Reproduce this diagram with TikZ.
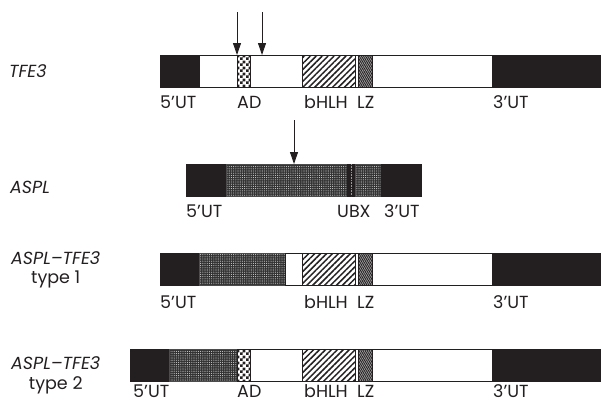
\documentclass[tikz,border=0pt]{standalone}
\usepackage{fontspec}
\setmainfont{Poppins}
\usetikzlibrary{patterns,patterns.meta,arrows.meta}
\definecolor{ink}{RGB}{35,31,32}
\tikzdeclarepattern{
  name=smallchecks,
  type=uncolored,
  bottom left={(0pt,0pt)},
  top right={(6pt,6pt)},
  tile size={(6pt,6pt)},
  code={
    \pgfpathrectangle{\pgfpointorigin}{\pgfqpoint{3pt}{3pt}}
    \pgfpathrectangle{\pgfqpoint{3pt}{3pt}}{\pgfqpoint{3pt}{3pt}}
    \pgfusepath{fill}
  }
}
\newcommand{\seg}[5]{\node[#1,minimum width={#4pt-#3pt}] (#2) at (#3,#5) {};}
\begin{document}
\begin{tikzpicture}[x=1pt,y=-1pt,
           seg/.style={draw=ink,line width=0.6pt,inner sep=0pt,outer sep=0pt,anchor=north west,minimum height=32pt},
           seg_utr/.style={seg,fill=ink},
           seg_open/.style={seg,fill=white},
           seg_ad/.style={seg,preaction={fill=white},pattern=smallchecks,pattern color=ink},
           seg_bhlh/.style={seg,preaction={fill=white},pattern={Lines[angle=45,distance=4.2pt,line width=1.5pt]},pattern color=ink},
           seg_lz/.style={seg,preaction={fill=black!35},pattern={Lines[angle=-60,distance=1.8pt,line width=0.9pt]},pattern color=ink},
           seg_aspl/.style={seg,draw=black!70,preaction={fill=black!80},pattern={Dots[distance=2.2pt,radius=0.55pt,xshift=0.4pt]},pattern color=white!80!black},
           seg_ubx/.style={seg,fill=ink},
           lbl_style/.style={anchor=west,inner sep=0pt,text=ink,font=\fontsize{17.5}{20}\selectfont},
           name_style/.style={anchor=west,inner sep=0pt,text=ink,font=\fontsize{17.5}{20}\selectfont\itshape},
           arrow_style/.style={draw=ink,line width=0.9pt,-{Triangle[length=12pt,width=8pt]}}]
            \useasboundingbox (0,0) rectangle (601,402);
            % TFE3
            \node[name_style] (n_tfe) at (9,71) {TFE3};
            \seg{seg_utr}{tfe_utr5}{160}{199}{55}
            \seg{seg_open}{tfe_w1}{199}{237}{55}
            \seg{seg_ad}{tfe_ad}{237}{250}{55}
            \seg{seg_open}{tfe_w2}{250}{302}{55}
            \seg{seg_bhlh}{tfe_bhlh}{302}{355}{55}
            \seg{seg_open}{tfe_gap}{355}{358}{55}
            \seg{seg_lz}{tfe_lz}{358}{372}{55}
            \seg{seg_open}{tfe_w3}{372}{492}{55}
            \seg{seg_utr}{tfe_utr3}{492}{602}{55}
            \coordinate (arr_a) at (237,12);
            \coordinate (arr_b) at (262,12);
            \draw[arrow_style] (arr_a) -- (arr_a |- tfe_ad.north);
            \draw[arrow_style] (arr_b) -- (arr_b |- tfe_w2.north);
            \node[lbl_style] (l_tfe_5) at (160,102) {5'UT};
            \node[lbl_style] (l_tfe_ad) at (237,102) {AD};
            \node[lbl_style] (l_tfe_bhlh) at (304,102) {bHLH};
            \node[lbl_style] (l_tfe_lz) at (357,102) {LZ};
            \node[lbl_style] (l_tfe_3) at (493,102) {3'UT};
            % ASPL
            \node[name_style] (n_aspl) at (10,187) {ASPL};
            \seg{seg_utr}{aspl_utr5}{186}{226}{164}
            \seg{seg_aspl}{aspl_stip}{226}{347}{164}
            \seg{seg_ubx}{aspl_ubx}{347}{355}{164}
            \seg{seg_aspl}{aspl_stip2}{355}{381}{164}
            \seg{seg_utr}{aspl_utr3}{381}{421}{164}
            \draw[white!60!black,densely dotted,line width=0.6pt] (aspl_ubx.north) -- (aspl_ubx.south);
            \coordinate (arr_c) at (294,120);
            \draw[arrow_style] (arr_c) -- (arr_c |- aspl_stip.north);
            \node[lbl_style] (l_aspl_5) at (186,211) {5'UT};
            \node[lbl_style] (l_aspl_ubx) at (337,211) {UBX};
            \node[lbl_style] (l_aspl_3) at (384,211) {3'UT};
            % ASPL-TFE3 type 1
            \node[name_style] (n_t1) at (11,258) {ASPL--TFE3};
            \node[lbl_style,anchor=center] (n_t1b) at (n_t1.center |- 0,279) {type 1};
            \seg{seg_utr}{t1_utr5}{160}{199}{253}
            \seg{seg_aspl}{t1_stip}{199}{285}{253}
            \seg{seg_open}{t1_w1}{285}{302}{253}
            \seg{seg_bhlh}{t1_bhlh}{302}{355}{253}
            \seg{seg_open}{t1_gap}{355}{358}{253}
            \seg{seg_lz}{t1_lz}{358}{372}{253}
            \seg{seg_open}{t1_w2}{372}{492}{253}
            \seg{seg_utr}{t1_utr3}{492}{602}{253}
            \node[lbl_style] (l_t1_5) at (160,302) {5'UT};
            \node[lbl_style] (l_t1_bhlh) at (304,302) {bHLH};
            \node[lbl_style] (l_t1_lz) at (357,302) {LZ};
            \node[lbl_style] (l_t1_3) at (493,302) {3'UT};
            % ASPL-TFE3 type 2
            \node[name_style] (n_t2) at (11,363) {ASPL--TFE3};
            \node[lbl_style,anchor=center] (n_t2b) at (n_t2.center |- 0,385) {type 2};
            \seg{seg_utr}{t2_utr5}{130}{169}{349}
            \seg{seg_aspl}{t2_stip}{169}{237}{349}
            \seg{seg_ad}{t2_ad}{237}{250}{349}
            \seg{seg_open}{t2_w1}{250}{302}{349}
            \seg{seg_bhlh}{t2_bhlh}{302}{355}{349}
            \seg{seg_open}{t2_gap}{355}{358}{349}
            \seg{seg_lz}{t2_lz}{358}{372}{349}
            \seg{seg_open}{t2_w2}{372}{492}{349}
            \seg{seg_utr}{t2_utr3}{492}{602}{349}
            \node[lbl_style] (l_t2_5) at (133,391) {5'UT};
            \node[lbl_style] (l_t2_ad) at (237,391) {AD};
            \node[lbl_style] (l_t2_bhlh) at (304,391) {bHLH};
            \node[lbl_style] (l_t2_lz) at (357,391) {LZ};
            \node[lbl_style] (l_t2_3) at (493,391) {3'UT};
        \end{tikzpicture}
\end{document}
